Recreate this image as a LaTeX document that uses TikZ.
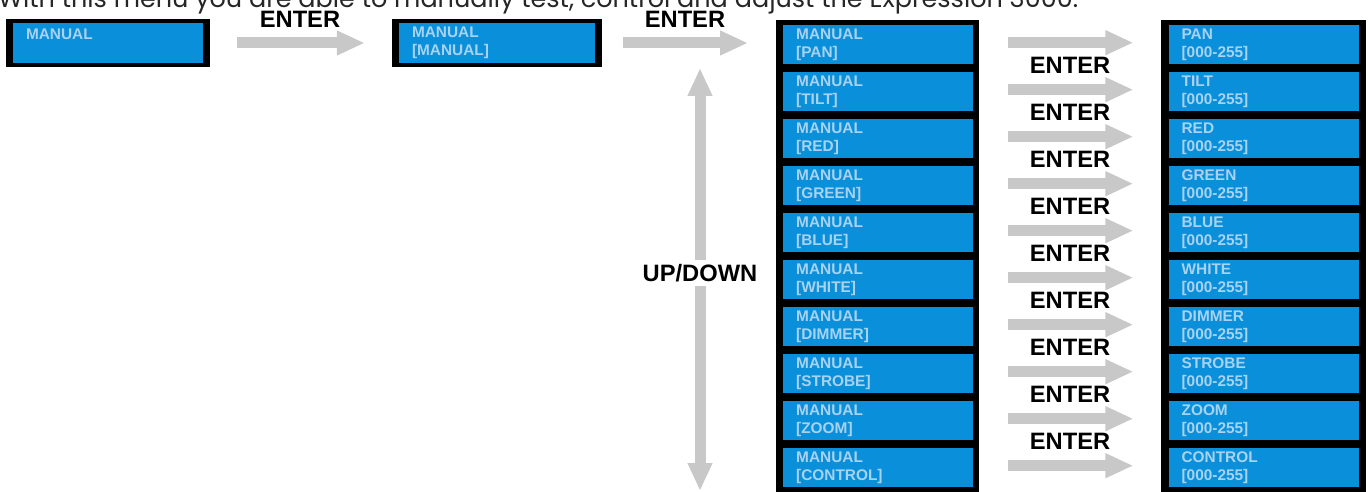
\documentclass[tikz,border=0pt]{standalone}
\usepackage{fontspec}
\setmainfont{Liberation Sans}
\newfontfamily\introfont{Poppins}
\usepackage{xcolor}
\usetikzlibrary{arrows.meta,positioning}
\definecolor{lcdblue}{HTML}{0A8FDA}
\definecolor{lcdtext}{HTML}{A8D3F0}
\definecolor{pilgray}{HTML}{C8C8C8}
\tikzset{
    %Define standard arrow tip
    >={Triangle[length=28pt,width=23pt]},
    %Define style for displays
    screen/.style={
           rectangle,
           fill=lcdblue,
           minimum width=190pt,
           minimum height=39pt,
           text width=164pt,
           inner xsep=13pt,
           inner ysep=0pt,
           align=left,
           font=\fontsize{15.4}{18}\selectfont\bfseries,
           text=lcdtext},
    bezel/.style={
           rectangle,
           fill=black,
           inner sep=0pt},
    % Define arrow style
    pil/.style={
           ->,
           line width=11pt,
           draw=pilgray},
    key/.style={
           font=\fontsize{23.7}{24}\selectfont\bfseries,
           inner sep=1pt}
}
\begin{document}
\begin{tikzpicture}[x=1pt,y=-1pt,node distance=8pt]
\useasboundingbox (0,0) rectangle (1368,492);
\clip (0,0) rectangle (1368,492);
%intro line, cut at the top
\node[anchor=base west,inner sep=0pt,text=black!85,font=\introfont\fontsize{25.5}{28}\selectfont] (intro) at (-2,8) {With this menu you are able to manually test, control and adjust the Expression 3000.};
 %first two displays
\node[bezel,minimum width=204pt,minimum height=48pt](f1) at (108,43){};
\node[screen,minimum height=40pt](s1) at (f1){MANUAL\\\mbox{}};
\node[bezel,minimum width=210pt,minimum height=48pt](f2) at (497,43){};
\node[screen,minimum height=40pt,text width=170pt](s2) at (f2){MANUAL\\{[}MANUAL{]}};
 %the two columns
\node[bezel,anchor=north west,minimum width=203pt,minimum height=480pt](colL) at (776,20){};
\node[bezel,anchor=north west,minimum width=205pt,minimum height=480pt](colR) at (1161,20){};
\foreach \name [count=\i] in {PAN,TILT,RED,GREEN,BLUE,WHITE,DIMMER,STROBE,ZOOM,CONTROL}{
  \node[screen,anchor=north west](m\i) at (783,{25+47*(\i-1)}){MANUAL\\{[}\name{]}};
  \node[screen,right=195pt of m\i](v\i){\name\\{[}000-255{]}};
  \draw[pil,shorten <=35pt,shorten >=35pt] ([yshift=2pt]m\i.east) -- ([yshift=2pt]v\i.west);
}
\foreach \i in {1,...,9}
  \node[key](k\i) at (1070,{65+47*(\i-1)}){ENTER};
 %arrows
\draw[pil,shorten <=27pt,shorten >=27pt] (f1) -- (f2);
\node[key](k0) at (300,19){ENTER};
\draw[pil,shorten <=21pt,shorten >=28pt] (f2.east) -- (f2.east -| colL.west);
\node[key](k00) at (685,19){ENTER};
\coordinate (up) at (700,68);
\coordinate (down) at (700,491);
\draw[pil,<->] (up) -- (down);
\node[key,fill=white,inner sep=4pt](ud) at (700,273){UP/DOWN};
\end{tikzpicture}
\end{document}
